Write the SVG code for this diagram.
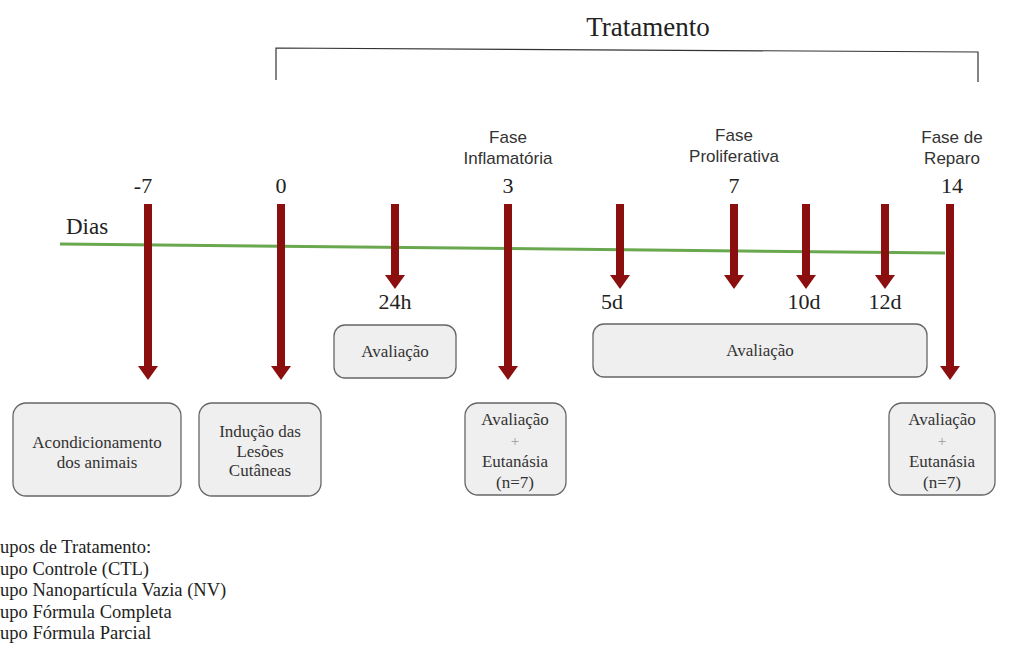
<svg xmlns="http://www.w3.org/2000/svg" width="1010" height="645" viewBox="0 0 1010 645">
<style>
.serif{font-family:"Liberation Serif","Times New Roman",serif;fill:#222}
.sans{font-family:"Liberation Sans",Arial,sans-serif;fill:#333;font-size:17px;text-anchor:middle}
.num{font-family:"Liberation Serif","Times New Roman",serif;fill:#222;font-size:22px;text-anchor:middle}
.box{fill:#efefef;stroke:#666;stroke-width:1.3}
.bt{font-family:"Liberation Serif","Times New Roman",serif;fill:#333;font-size:17px;text-anchor:middle}
.plus{font-family:"Liberation Serif","Times New Roman",serif;fill:#999;font-size:15px;text-anchor:middle}
.shaft{stroke:#8b0f0f;stroke-width:8}
.head{fill:#8b0f0f}
.leg{font-family:"Liberation Serif","Times New Roman",serif;fill:#222;font-size:18.5px}
</style>
<rect width="1010" height="645" fill="#fff"/>
<g id="bracket">
<text class="serif" x="648" y="36" font-size="27" text-anchor="middle">Tratamento</text>
<path d="M276,80 V48 L978,52 V82" fill="none" stroke="#333" stroke-width="1.2"/>
</g>
<g id="connectors">
<line x1="60" y1="244" x2="945" y2="253" stroke="#6aa84f" stroke-width="3"/>
<g id="a-7"><line class="shaft" x1="148" y1="204" x2="148" y2="367"/><path class="head" d="M138,366 H158 L148,380 Z"/></g>
<g id="a0"><line class="shaft" x1="281" y1="204" x2="281" y2="367"/><path class="head" d="M271,366 H291 L281,380 Z"/></g>
<g id="a24h"><line class="shaft" x1="395" y1="204" x2="395" y2="276"/><path class="head" d="M385,275 H405 L395,289 Z"/></g>
<g id="a3"><line class="shaft" x1="508" y1="204" x2="508" y2="367"/><path class="head" d="M498,366 H518 L508,380 Z"/></g>
<g id="a5d"><line class="shaft" x1="620" y1="204" x2="620" y2="276"/><path class="head" d="M610,275 H630 L620,289 Z"/></g>
<g id="a7"><line class="shaft" x1="734" y1="204" x2="734" y2="276"/><path class="head" d="M724,275 H744 L734,289 Z"/></g>
<g id="a10d"><line class="shaft" x1="806" y1="204" x2="806" y2="276"/><path class="head" d="M796,275 H816 L806,289 Z"/></g>
<g id="a12d"><line class="shaft" x1="885" y1="204" x2="885" y2="276"/><path class="head" d="M875,275 H895 L885,289 Z"/></g>
<g id="a14"><line class="shaft" x1="950" y1="204" x2="950" y2="367"/><path class="head" d="M940,366 H960 L950,380 Z"/></g>
</g>
<g id="labels">
<text class="serif" x="66" y="234" font-size="23">Dias</text>
<text class="num" x="143" y="193">-7</text>
<text class="num" x="281" y="193">0</text>
<text class="num" x="508" y="193">3</text>
<text class="num" x="734" y="193">7</text>
<text class="num" x="952" y="193">14</text>
<text class="num" x="395" y="309">24h</text>
<text class="num" x="612" y="309">5d</text>
<text class="num" x="804" y="309">10d</text>
<text class="num" x="885" y="309">12d</text>
<text class="sans" x="508" y="143">Fase</text>
<text class="sans" x="508" y="164">Inflamatória</text>
<text class="sans" x="734" y="141">Fase</text>
<text class="sans" x="734" y="162">Proliferativa</text>
<text class="sans" x="952" y="143">Fase de</text>
<text class="sans" x="952" y="164">Reparo</text>
</g>
<g id="n-acond"><rect class="box" x="13" y="403" width="168" height="93" rx="13"/>
<text class="bt" x="97" y="448">Acondicionamento</text><text class="bt" x="97" y="468">dos animais</text></g>
<g id="n-inducao"><rect class="box" x="199" y="403" width="122" height="93" rx="13"/>
<text class="bt" x="260" y="437">Indução das</text><text class="bt" x="260" y="457">Lesões</text><text class="bt" x="260" y="476">Cutâneas</text></g>
<g id="n-aval1"><rect class="box" x="334" y="325" width="122" height="53" rx="11"/>
<text class="bt" x="395" y="357">Avaliação</text></g>
<g id="n-eut3"><rect class="box" x="465" y="403" width="101" height="92" rx="13"/>
<text class="bt" x="515" y="425">Avaliação</text><text class="plus" x="515" y="446">+</text><text class="bt" x="515" y="467">Eutanásia</text><text class="bt" x="515" y="488">(n=7)</text></g>
<g id="n-aval2"><rect class="box" x="593" y="324" width="334" height="53" rx="11"/>
<text class="bt" x="760" y="356">Avaliação</text></g>
<g id="n-eut14"><rect class="box" x="889" y="403" width="106" height="92" rx="13"/>
<text class="bt" x="942" y="425">Avaliação</text><text class="plus" x="942" y="446">+</text><text class="bt" x="942" y="467">Eutanásia</text><text class="bt" x="942" y="488">(n=7)</text></g>
<g id="legend">
<text class="leg" x="0" y="553">upos de Tratamento:</text>
<text class="leg" x="0" y="575">upo Controle (CTL)</text>
<text class="leg" x="0" y="596">upo Nanopartícula Vazia (NV)</text>
<text class="leg" x="0" y="618">upo Fórmula Completa</text>
<text class="leg" x="0" y="639">upo Fórmula Parcial</text>
</g>
</svg>
